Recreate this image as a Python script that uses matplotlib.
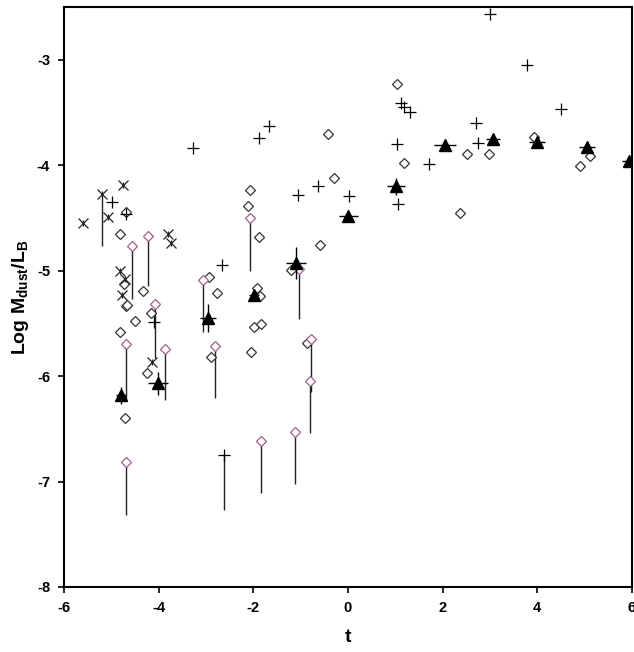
import numpy as np
import matplotlib
matplotlib.use("Agg")
import matplotlib.pyplot as plt

plt.rcParams['font.family'] = ['Liberation Sans', 'DejaVu Sans']
plt.rcParams['mathtext.fontset'] = 'custom'
plt.rcParams['mathtext.rm'] = 'Liberation Sans:bold'
plt.rcParams['mathtext.bf'] = 'Liberation Sans:bold'
plt.rcParams['axes.unicode_minus'] = False

# plus markers
plus_t = [-4.98, -4.70, -4.10, -2.66, -2.63, -3.28, -1.88, -1.66, -1.06, -0.64, 0.02,
          1.03, 1.06, 1.13, 1.18, 1.32, 1.71, 2.70, 2.74, 2.99, 3.78, 4.49]
plus_v = [-4.35, -4.46, -5.49, -4.95, -6.75, -3.84, -3.74, -3.63, -4.28, -4.20, -4.29,
          -3.80, -4.37, -3.41, -3.45, -3.50, -3.99, -3.60, -3.79, -2.57, -3.05, -3.47]
# plus with limit line
plus_lim_t = [-2.63]
plus_lim_top = [-6.75]
plus_lim_bot = [-7.27]

# asterisk markers
ast_t = [-5.59, -5.20, -5.08, -4.75, -3.80, -3.74, -4.82, -4.72, -4.77, -4.15]
ast_v = [-4.55, -4.27, -4.49, -4.19, -4.65, -4.74, -5.00, -5.08, -5.23, -5.87]
ast_lim_t = [-5.20]
ast_lim_top = [-4.27]
ast_lim_bot = [-4.77]

# open diamonds
dia_t = [-4.70, -4.81, -4.73, -4.70, -4.67, -4.33, -4.50, -4.81, -4.17, -2.94, -2.76,
         -4.24, -4.71, -2.90, -2.07, -2.12, -1.87, -0.60, -1.21, -1.92, -1.85, -1.98,
         -1.84, -2.05, -0.87, -0.42, -0.30, 1.03, 1.18, 2.51, 2.98, 2.37, 3.93, 4.90, 5.11]
dia_v = [-4.44, -4.65, -5.13, -5.34, -5.33, -5.19, -5.48, -5.58, -5.40, -5.06, -5.21,
         -5.97, -6.40, -5.82, -4.24, -4.39, -4.68, -4.76, -4.99, -5.16, -5.24, -5.53,
         -5.51, -5.77, -5.69, -3.70, -4.12, -3.23, -3.98, -3.89, -3.89, -4.45, -3.73, -4.01, -3.91]

# upper-limit diamonds (pink) with line down
lim_t = [-4.56, -4.23, -4.08, -4.70, -3.87, -3.07, -4.70, -2.80, -2.06, -1.04, -0.79, -0.80, -1.84, -1.11]
lim_v = [-4.77, -4.67, -5.32, -5.70, -5.74, -5.09, -6.81, -5.71, -4.50, -4.98, -5.65, -6.05, -6.62, -6.53]
lim_bot = [-5.27, -5.15, -5.83, -6.24, -6.23, -5.58, -7.32, -6.21, -5.00, -5.46, -6.15, -6.54, -7.11, -7.02]

# binned means (filled triangles)
tri_t = [-4.80, -4.01, -2.96, -1.99, -1.10, 0.01, 1.01, 2.05, 3.06, 4.00, 5.04, 5.94]
tri_v = [-6.18, -6.07, -5.45, -5.23, -4.93, -4.48, -4.20, -3.81, -3.75, -3.78, -3.83, -3.96]
tri_xerr = [0.10, 0.21, 0.17, 0.10, 0.22, 0.20, 0.19, 0.23, 0.15, 0.17, 0.17, 0.15]
tri_yerr = [0.08, 0.11, 0.13, 0.05, 0.15, 0.05, 0.08, 0.03, 0.03, 0.03, 0.03, 0.03]

fig = plt.figure(figsize=(6.34, 6.52), dpi=100)
ax = fig.add_axes([64 / 634, 65 / 652, 568 / 634, 580 / 652])

pink = '#a0608c'
ax.vlines(lim_t, lim_bot, lim_v, colors='#222222', linewidth=1.0, zorder=2)
ax.vlines(plus_lim_t, plus_lim_bot, plus_lim_top, colors='#222222', linewidth=1.0, zorder=2)
ax.vlines(ast_lim_t, ast_lim_bot, ast_lim_top, colors='#222222', linewidth=1.0, zorder=2)

ax.plot(dia_t, dia_v, 'D', ms=5.5, mfc='white', mec='#333333', mew=0.9, ls='none', zorder=3)
ax.plot(lim_t, lim_v, 'D', ms=5.5, mfc='white', mec=pink, mew=0.9, ls='none', zorder=3)
ax.plot(plus_t, plus_v, '+', ms=8, mec='black', mew=0.9, ls='none', zorder=4)
ax.plot(ast_t, ast_v, 'x', ms=7, mec='#222222', mew=0.9, ls='none', zorder=4)
ax.plot(ast_t, ast_v, '|', ms=5, mec='#222222', mew=0.9, ls='none', zorder=4)

ax.errorbar(tri_t, tri_v, xerr=tri_xerr, yerr=tri_yerr, fmt='^', ms=8,
            mfc='black', mec='black', ecolor='black', elinewidth=1.0, capsize=0, zorder=5)

ax.set_xlim(-6, 6)
ax.set_ylim(-8, -2.5)
ax.set_xticks([-6, -4, -2, 0, 2, 4, 6])
ax.set_yticks([-8, -7, -6, -5, -4, -3])
ax.tick_params(direction='out', length=4, width=1.2, labelsize=10.5, pad=6)
for lab in ax.get_xticklabels() + ax.get_yticklabels():
    lab.set_fontweight('bold')
for s in ax.spines.values():
    s.set_linewidth(1.5)

ax.set_xlabel('t', fontsize=14, fontweight='bold', labelpad=10)
ax.set_ylabel(r'Log M$_{\mathbf{dust}}$/L$_{\mathbf{B}}$', fontsize=14, fontweight='bold', labelpad=4)

fig.savefig('out.png', dpi=100)
